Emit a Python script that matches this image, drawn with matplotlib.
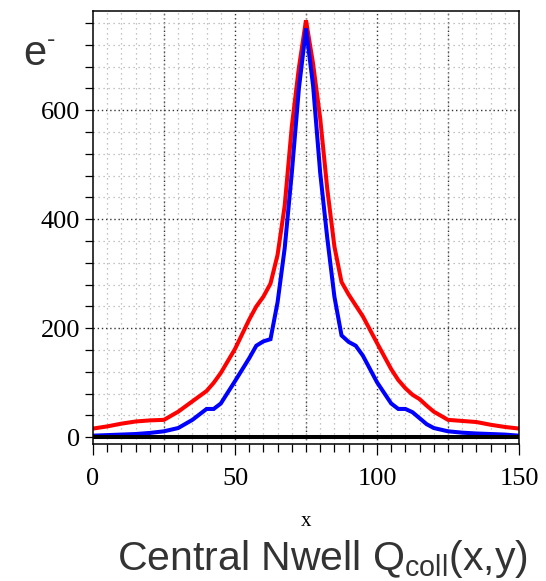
import matplotlib
matplotlib.use('Agg')
import matplotlib.pyplot as plt
from matplotlib.ticker import MultipleLocator, FixedLocator

# ---- data ----
x = [0, 5, 10, 15, 20, 25, 30, 35, 40, 42.5, 45, 50, 55, 57.5, 60, 62.5, 65, 67.5,
     70, 72.5, 75, 77.5, 80, 82.5, 85, 87.5, 90, 92.5, 95, 100, 105, 107.5, 110,
     112.5, 115, 117.5, 120, 125, 130, 135, 140, 145, 150]
red = [16, 20, 25, 29, 31, 32, 47, 66, 85, 100, 118, 162, 216, 240, 258, 282, 335, 425,
       570, 678, 765, 685, 585, 455, 350, 285, 262, 242, 222, 173, 125, 105, 90,
       78, 70, 58, 47, 32, 30, 28, 23, 19, 16]
blue = [3, 4, 5, 6, 8, 11, 17, 32, 52, 52, 62, 103, 145, 168, 176, 180, 248, 347,
        485, 640, 750, 645, 485, 365, 258, 187, 175, 168, 150, 101, 62, 52, 52,
        46, 35, 24, 17, 11, 8.5, 7, 6, 5, 3]
zero = [0] * len(x)

x_ticks = [0, 50, 100, 150]
x_grid_major = [25, 50, 75, 100, 125]
y_ticks = [0, 200, 400, 600]

plt.rcParams['mathtext.fontset'] = 'custom'
plt.rcParams['mathtext.rm'] = 'Liberation Sans'
plt.rcParams['mathtext.it'] = 'Liberation Sans'

W, H = 546, 581
fig = plt.figure(figsize=(W / 100, H / 100), dpi=100)
ax = fig.add_axes([93 / W, 1 - 444 / H, 426 / W, 433 / H])

ax.set_xlim(0, 150)
ax.set_ylim(-12.3, 782)

# grids
ax.xaxis.set_major_locator(FixedLocator(x_ticks))
ax.xaxis.set_minor_locator(MultipleLocator(5))
ax.yaxis.set_major_locator(FixedLocator(y_ticks))
ax.yaxis.set_minor_locator(MultipleLocator(40))
ax.grid(which='minor', color='#b0b0b0', linestyle=(0, (1, 3)), linewidth=0.9)
ax.grid(which='major', axis='y', color='#333333', linestyle=(0, (1, 2)), linewidth=1.0)
for gx in x_grid_major:
    ax.axvline(gx, color='#333333', linestyle=(0, (1, 2)), linewidth=1.0, zorder=0.5)

ax.plot(x, red, color='#ff0000', linewidth=2.9, solid_joinstyle='miter')
ax.plot(x, blue, color='#0000ff', linewidth=2.9, solid_joinstyle='miter')
ax.plot(x, zero, color='black', linewidth=2.9)

for s in ax.spines.values():
    s.set_linewidth(1.1)
    s.set_color('black')

ax.tick_params(axis='x', which='major', direction='out', length=8, width=0.9, pad=9)
ax.tick_params(axis='x', which='minor', direction='out', length=5.8, width=0.9)
ax.tick_params(axis='y', which='both', direction='out', length=5.8, width=0.9, pad=3.5)

for lab in ax.get_xticklabels() + ax.get_yticklabels():
    lab.set_fontfamily('Liberation Serif')
    lab.set_fontsize(19)

ax.set_xlabel('x', fontsize=15, family='Liberation Serif')
ax.xaxis.label.set_va('center')
ax.xaxis.set_label_coords(0.5, -(522 - 444) / 433)

fig.text(23 / W, 1 - 65 / H, 'e', fontsize=30, family='Liberation Sans',
         color='#333333', va='baseline', ha='left')
fig.text(47 / W, 1 - 40 / H, '-', fontsize=18, family='Liberation Sans',
         color='#333333', va='center', ha='left')

fig.text(528 / W, 1 - 570 / H, r'Central Nwell Q$_{\rm coll}$(x,y)', fontsize=29.5,
         family='Liberation Sans', color='#333333', va='baseline', ha='right')

fig.savefig('out.png', dpi=100)
